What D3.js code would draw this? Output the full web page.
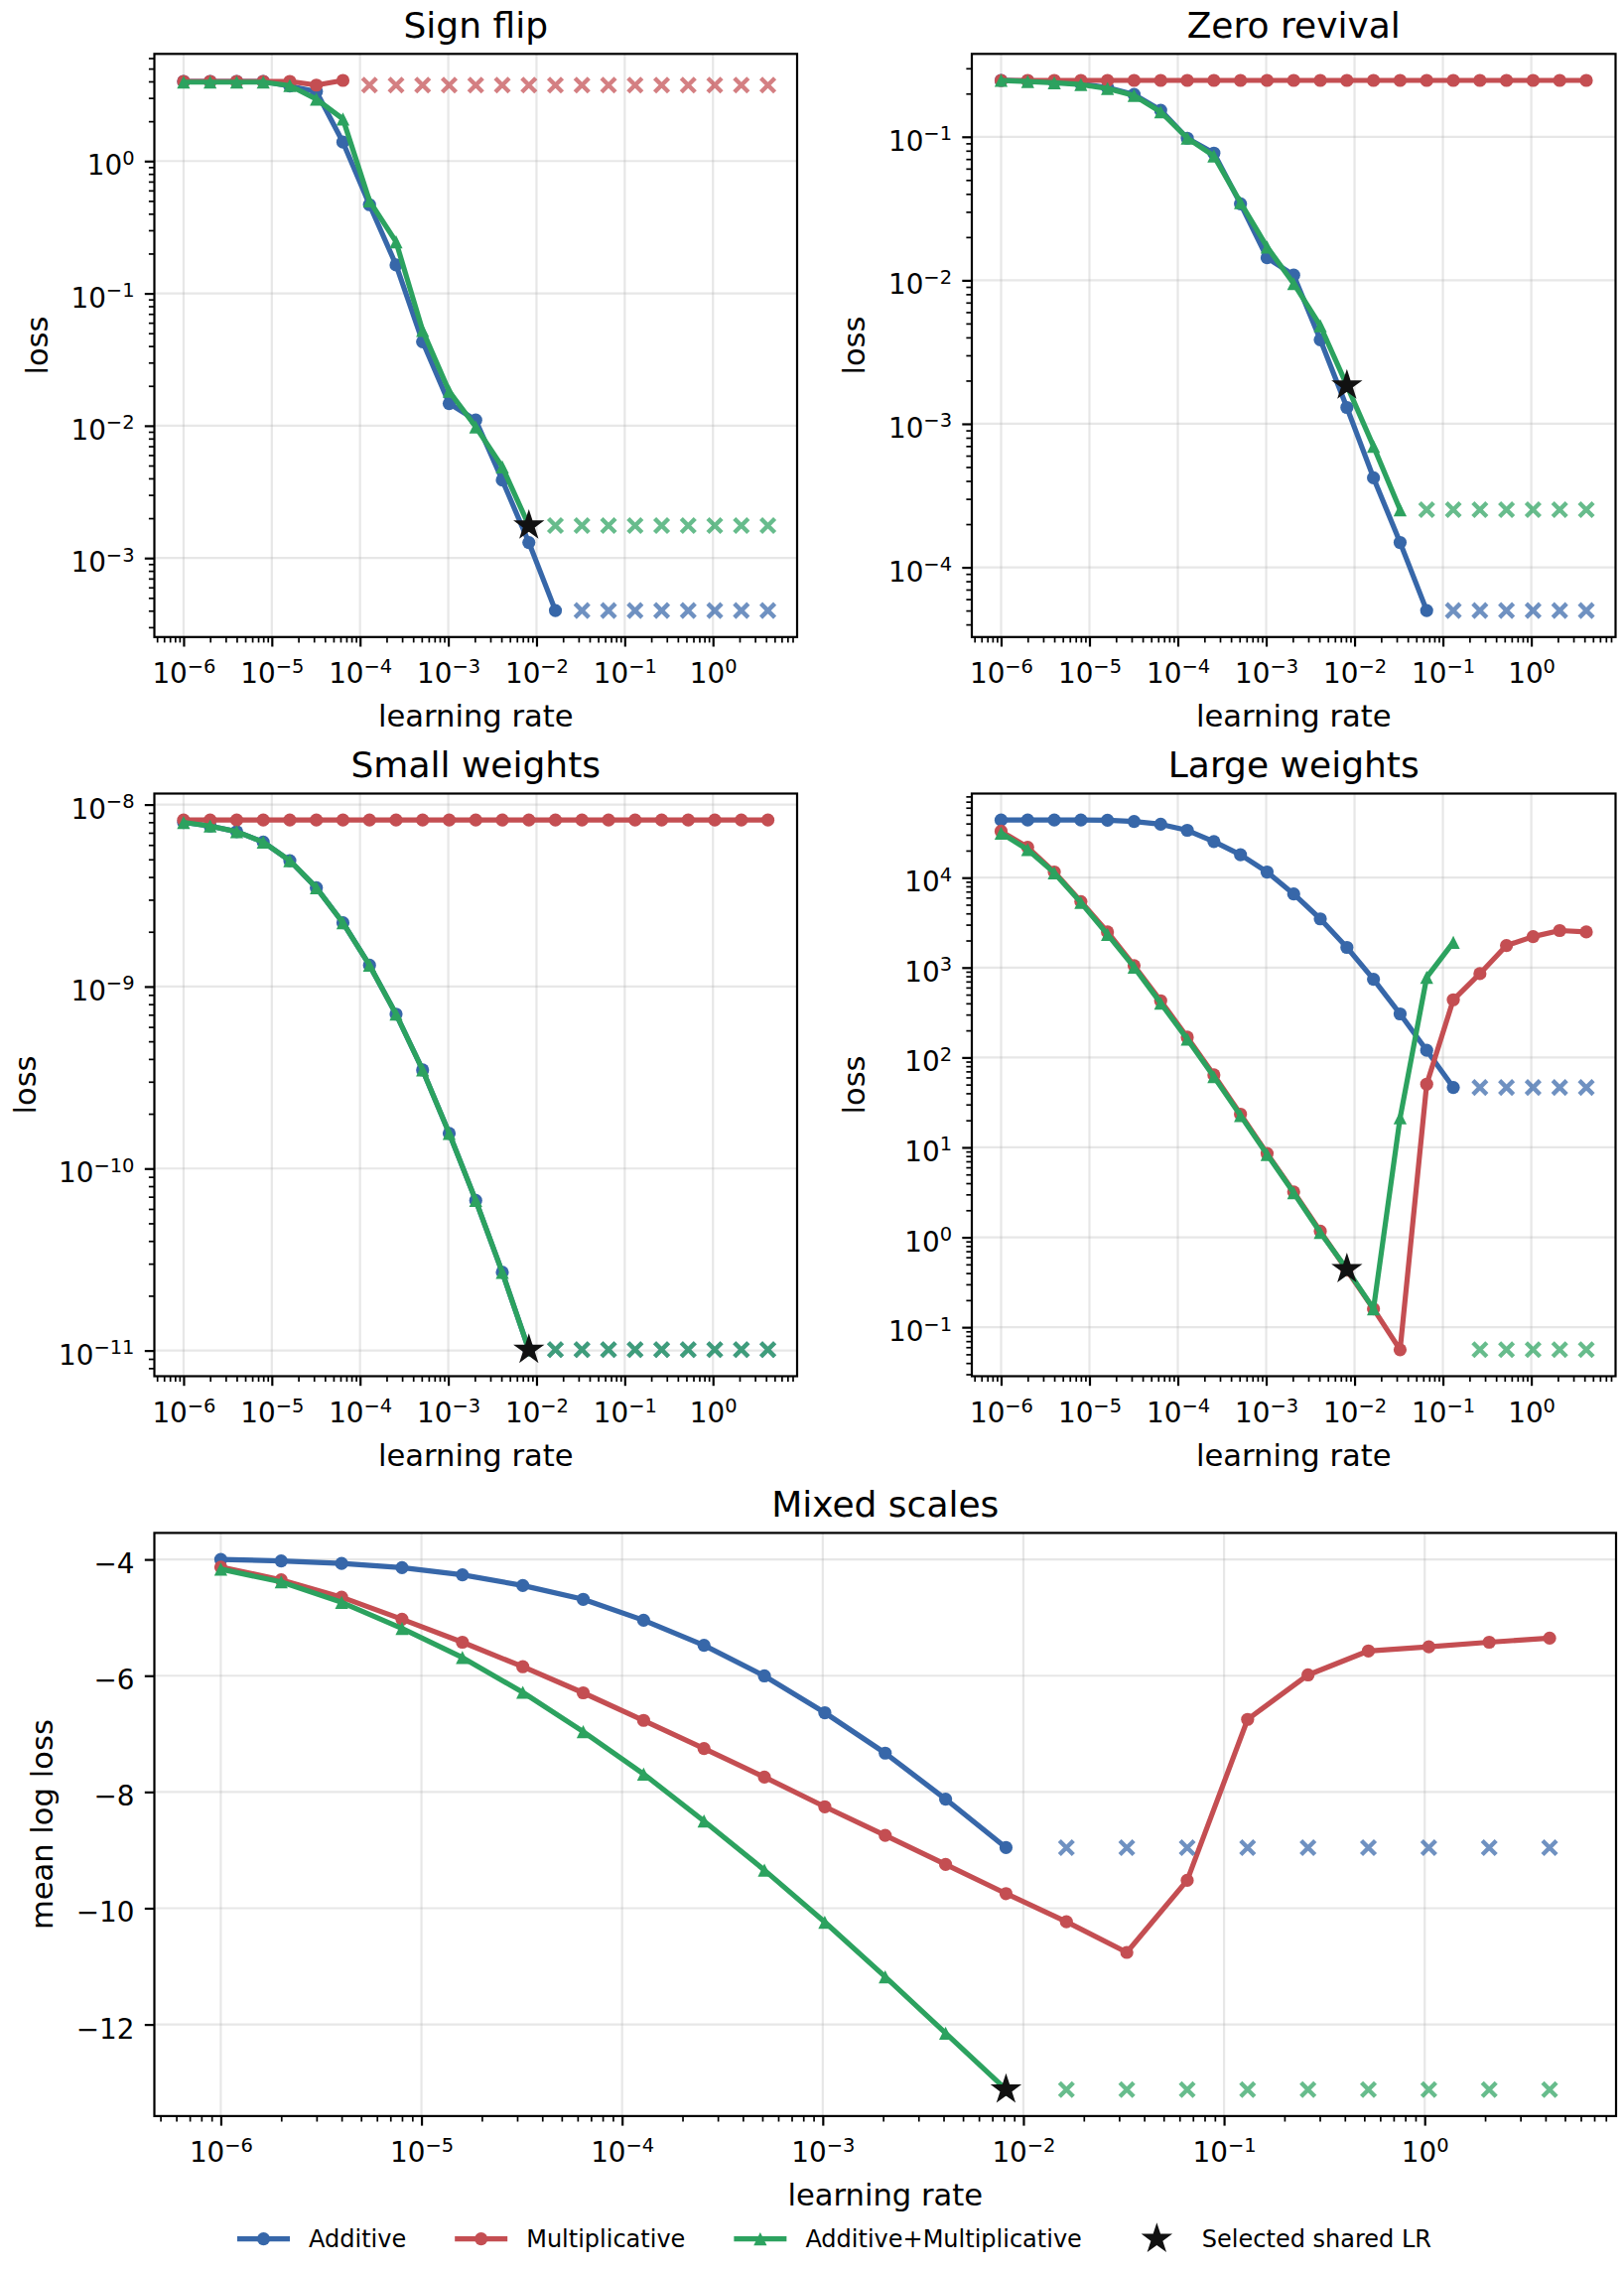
<!DOCTYPE html>
<html><head><meta charset="utf-8">
<script src="https://cdn.jsdelivr.net/npm/d3@7"></script>
<style>
body{margin:0;background:#fff}
svg{display:block}
text{font-family:"DejaVu Sans",sans-serif;fill:#000}
</style>
</head><body>
<svg id="chart" width="1636" height="2288"></svg>
<script>
// ---------------- DATA ----------------
const learningRates = [1e-6, 2e-6, 4e-6, 8e-6, 1.6e-5, 3.2e-5, 6.4e-5, 1.28e-4, 2.56e-4, 5.12e-4,
  1.024e-3, 2.048e-3, 4.096e-3, 8.192e-3, 1.6384e-2, 3.2768e-2, 6.5536e-2, 0.131072, 0.262144,
  0.524288, 1.048576, 2.097152, 4.194304];
const selectedLR = 8.192e-3;
const seriesNames = ["Additive", "Multiplicative", "Additive+Multiplicative"];
const starLegendLabel = "Selected shared LR";
const panelTitles = ["Sign flip", "Zero revival", "Small weights", "Large weights", "Mixed scales"];
const xTickValues = [1e-6, 1e-5, 1e-4, 1e-3, 1e-2, 1e-1, 1e0];
const mixedYTicks = [-12, -10, -8, -6, -4];

// Sign flip (values until divergence; x markers afterwards at the "fail" level)
const signFlipAdditive = [4.0, 4.0, 4.0, 4.0, 3.69, 3.35, 1.39, 0.468, 0.164, 0.0431, 0.0147, 0.01103, 0.00388, 0.00131, 0.000401];
const signFlipMultiplicative = [4.0, 4.0, 4.0, 4.0, 4.0, 3.75, 4.07];
const signFlipBoth = [3.95, 3.95, 3.95, 3.95, 3.72, 2.94, 2.08, 0.5, 0.245, 0.0525, 0.0182, 0.0098, 0.00488, 0.00176];
const signFlipFail = [0.000401, 3.75, 0.00176];
const signFlipStar = 0.00176;

// Zero revival
const zeroRevivalAdditive = [0.247, 0.245, 0.241, 0.234, 0.220, 0.197, 0.153, 0.0977, 0.0769, 0.0341, 0.01435, 0.01087, 0.00385, 0.0013, 0.00042, 0.000149, 0.00005];
const zeroRevivalMultiplicative = [0.247, 0.247, 0.247, 0.247, 0.247, 0.247, 0.247, 0.247, 0.247, 0.247, 0.247, 0.247, 0.247, 0.247, 0.247, 0.247, 0.247, 0.247, 0.247, 0.247, 0.247, 0.247, 0.247];
const zeroRevivalBoth = [0.247, 0.243, 0.238, 0.231, 0.217, 0.194, 0.149, 0.098, 0.0735, 0.0348, 0.01706, 0.00948, 0.00482, 0.00185, 0.000697, 0.000252];
const zeroRevivalFail = [0.00005, null, 0.000252];
const zeroRevivalStar = 0.00185;

// Small weights
const smallWeightsAdditive = [7.98e-9, 7.62e-9, 7.1e-9, 6.22e-9, 4.92e-9, 3.49e-9, 2.24e-9, 1.31e-9, 7.05e-10, 3.48e-10, 1.56e-10, 6.68e-11, 2.69e-11, 1.01e-11];
const smallWeightsMultiplicative = [8.22e-9, 8.22e-9, 8.22e-9, 8.22e-9, 8.22e-9, 8.22e-9, 8.22e-9, 8.22e-9, 8.22e-9, 8.22e-9, 8.22e-9, 8.22e-9, 8.22e-9, 8.22e-9, 8.22e-9, 8.22e-9, 8.22e-9, 8.22e-9, 8.22e-9, 8.22e-9, 8.22e-9, 8.22e-9, 8.22e-9];
const smallWeightsBoth = [7.98e-9, 7.62e-9, 7.1e-9, 6.22e-9, 4.92e-9, 3.49e-9, 2.24e-9, 1.31e-9, 7.05e-10, 3.48e-10, 1.56e-10, 6.68e-11, 2.69e-11, 1.01e-11];
const smallWeightsFail = [1.01e-11, null, 1.01e-11];
const smallWeightsStar = 1.01e-11;

// Large weights
const largeWeightsAdditive = [43700, 43700, 43700, 43700, 43500, 42200, 39200, 33600, 25200, 18000, 11550, 6580, 3480, 1675, 741, 305, 120, 46.4];
const largeWeightsMultiplicative = [32800, 21800, 11550, 5420, 2490, 1050, 427, 168, 64.1, 23.4, 8.56, 3.2, 1.17, 0.431, 0.16, 0.0562, 50.5, 438, 855, 1760, 2210, 2580, 2490];
const largeWeightsBoth = [31300, 20500, 11300, 5290, 2340, 1010, 402, 160, 61.1, 22.6, 8.35, 3.13, 1.13, 0.443, 0.16, 21.3, 778, 1910];
const largeWeightsFail = [46.4, null, 0.0562];
const largeWeightsStar = 0.443;

// Mixed scales (mean log loss)
const mixedAdditive = [-4.0, -4.026, -4.07, -4.14, -4.264, -4.448, -4.686, -5.046, -5.477, -6.004, -6.637, -7.332, -8.123, -8.958];
const mixedMultiplicative = [-4.132, -4.352, -4.65, -5.029, -5.424, -5.846, -6.295, -6.769, -7.253, -7.745, -8.255, -8.747, -9.248, -9.749, -10.233, -10.76, -9.521, -6.752, -5.987, -5.574, -5.503, -5.424, -5.354];
const mixedBoth = [-4.167, -4.387, -4.738, -5.187, -5.688, -6.286, -6.963, -7.692, -8.501, -9.345, -10.24, -11.18, -12.15, -13.12];
const mixedFail = [-8.958, null, -13.12];
const mixedStar = -13.12;

// ---------------- STYLE / LAYOUT ----------------
const colors = ["#3767a9", "#c44e52", "#2ca25f"];
const markerShapes = ["circle", "circle", "triangle"];
const F = {title: 36, label: 30.6, tick: 27.8, legend: 24};
const LW = 5.2, MR = 6.6;

const panels = [
  {title: panelTitles[0], ylabel: "loss", log: true, series: [signFlipAdditive, signFlipMultiplicative, signFlipBoth], fail: signFlipFail, star: signFlipStar, box: {L: 155.5, R: 803, T: 54.3, B: 641.8}},
  {title: panelTitles[1], ylabel: "loss", log: true, series: [zeroRevivalAdditive, zeroRevivalMultiplicative, zeroRevivalBoth], fail: zeroRevivalFail, star: zeroRevivalStar, box: {L: 979, R: 1627.5, T: 54.3, B: 641.8}},
  {title: panelTitles[2], ylabel: "loss", log: true, series: [smallWeightsAdditive, smallWeightsMultiplicative, smallWeightsBoth], fail: smallWeightsFail, star: smallWeightsStar, box: {L: 155.5, R: 803, T: 799.5, B: 1386.5}},
  {title: panelTitles[3], ylabel: "loss", log: true, series: [largeWeightsAdditive, largeWeightsMultiplicative, largeWeightsBoth], fail: largeWeightsFail, star: largeWeightsStar, box: {L: 979, R: 1627.5, T: 799.5, B: 1386.5}},
  {title: panelTitles[4], ylabel: "mean log loss", log: false, series: [mixedAdditive, mixedMultiplicative, mixedBoth], fail: mixedFail, star: mixedStar, box: {L: 155.5, R: 1628, T: 1544.4, B: 2131.9}}
];

const svg = d3.select("#chart");
function supLabel(sel, exp, baseSize) {
  sel.text(null);
  sel.append("tspan").text("10");
  sel.append("tspan").attr("font-size", baseSize * 0.7).attr("dy", -10.5)
    .text(String(exp).replace("-", "\u2212"));
}

function logExtent(vals, pad) {
  const a = Math.log10(d3.min(vals)), b = Math.log10(d3.max(vals)), m = (b - a) * pad;
  return [Math.pow(10, a - m), Math.pow(10, b + m)];
}
function linExtent(vals, pad) {
  const a = d3.min(vals), b = d3.max(vals), m = (b - a) * pad;
  return [a - m, b + m];
}
function minorLogTicks(domain) {
  const out = [];
  for (let e = -12; e <= 6; e++) for (let m = 2; m <= 9; m++) {
    const v = m * Math.pow(10, e);
    if (v >= Math.min(...domain) && v <= Math.max(...domain)) out.push(v);
  }
  return out;
}
function markerPath(shape, r) {
  if (shape === "triangle") return `M0,${-r}L${-r},${r}L${r},${r}Z`;
  return d3.symbol(d3.symbolCircle, Math.PI * r * r)();
}
function starPath(R) {
  const ri = R * 0.381966; let p = "";
  for (let i = 0; i < 10; i++) {
    const rr = i % 2 === 0 ? R : ri;
    const a = -Math.PI / 2 + i * Math.PI / 5;
    p += (i === 0 ? "M" : "L") + (rr * Math.cos(a)).toFixed(2) + "," + (rr * Math.sin(a)).toFixed(2);
  }
  return p + "Z";
}
function xPath(h) { return `M${-h},${-h}L${h},${h}M${-h},${h}L${h},${-h}`; }

panels.forEach(p => {
  const {L, R, T, B} = p.box;
  const g = svg.append("g");
  const xDom = logExtent(learningRates, 0.05);
  const x = d3.scaleLog().domain(xDom).range([L, R]);
  const allY = p.series.flat().concat(p.fail.filter(v => v !== null));
  const y = p.log ? d3.scaleLog().domain(logExtent(allY, 0.05)).range([B, T])
                  : d3.scaleLinear().domain(linExtent(allY, 0.05)).range([B, T]);
  const yMajor = p.log ? d3.range(Math.ceil(Math.log10(y.domain()[0])), Math.floor(Math.log10(y.domain()[1])) + 1).map(e => Math.pow(10, e))
                       : mixedYTicks;

  // grid
  const grid = g.append("g").attr("stroke", "#b0b0b0").attr("stroke-opacity", 0.3).attr("stroke-width", 2.2);
  grid.selectAll("line.gx").data(xTickValues).join("line").attr("x1", d => x(d)).attr("x2", d => x(d)).attr("y1", T).attr("y2", B);
  grid.selectAll("line.gy").data(yMajor).join("line").attr("x1", L).attr("x2", R).attr("y1", d => y(d)).attr("y2", d => y(d));

  // series
  p.series.forEach((vals, i) => {
    const pts = vals.map((v, k) => ({x: learningRates[k], y: v}));
    g.append("path").datum(pts).attr("fill", "none").attr("stroke", colors[i]).attr("stroke-width", LW)
      .attr("stroke-linejoin", "round").attr("stroke-linecap", "butt")
      .attr("d", d3.line().x(d => x(d.x)).y(d => y(d.y)));
    g.append("g").selectAll("path").data(pts).join("path")
      .attr("transform", d => `translate(${x(d.x)},${y(d.y)})`)
      .attr("d", markerPath(markerShapes[i], MR)).attr("fill", colors[i]);
  });
  // failure markers
  p.series.forEach((vals, i) => {
    if (p.fail[i] === null) return;
    const fx = learningRates.slice(vals.length);
    g.append("g").selectAll("path").data(fx).join("path")
      .attr("transform", d => `translate(${x(d)},${y(p.fail[i])})`)
      .attr("d", xPath(7)).attr("fill", "none").attr("stroke", colors[i])
      .attr("stroke-opacity", 0.72).attr("stroke-width", 4.4);
  });
  // star
  g.append("path").attr("transform", `translate(${x(selectedLR)},${y(p.star)})`)
    .attr("d", starPath(16.5)).attr("fill", "#111");

  // axes
  const axB = g.append("g").attr("transform", `translate(0,${B})`);
  axB.append("g").call(d3.axisBottom(x).tickValues(minorLogTicks(xDom)).tickSize(5.6).tickFormat(""))
    .call(s => { s.select(".domain").remove(); s.selectAll("line").attr("stroke-width", 1.7); });
  const axBM = axB.append("g").call(d3.axisBottom(x).tickValues(xTickValues).tickSize(9.7))
    .attr("font-size", null).attr("font-family", null);
  axBM.select(".domain").remove();
  axBM.selectAll("line").attr("stroke-width", 2.2);
  axBM.selectAll("text").attr("y", 46.5).attr("dy", null).attr("font-size", F.tick)
    .each(function(d) { supLabel(d3.select(this), Math.round(Math.log10(d)), F.tick); });

  const axL = g.append("g").attr("transform", `translate(${L},0)`);
  if (p.log) {
    axL.append("g").call(d3.axisLeft(y).tickValues(minorLogTicks(y.domain())).tickSize(5.6).tickFormat(""))
      .call(s => { s.select(".domain").remove(); s.selectAll("line").attr("stroke-width", 1.7); });
  }
  const axLM = axL.append("g").call(d3.axisLeft(y).tickValues(yMajor).tickSize(9.7)
      .tickFormat(d => p.log ? "" : String(d).replace("-", "\u2212")))
    .attr("font-size", null).attr("font-family", null);
  axLM.select(".domain").remove();
  axLM.selectAll("line").attr("stroke-width", 2.2);
  axLM.selectAll("text").attr("x", -20).attr("dy", null).attr("y", 13.5).attr("font-size", F.tick)
    .each(function(d) { if (p.log) supLabel(d3.select(this), Math.round(Math.log10(d)), F.tick); });

  // spines
  g.append("rect").attr("x", L).attr("y", T).attr("width", R - L).attr("height", B - T)
    .attr("fill", "none").attr("stroke", "#000").attr("stroke-width", 2.2);

  // labels
  g.append("text").attr("x", (L + R) / 2).attr("y", T - 16.5).attr("text-anchor", "middle")
    .attr("font-size", F.title).text(p.title);
  g.append("text").attr("x", (L + R) / 2).attr("y", B + 90).attr("text-anchor", "middle")
    .attr("font-size", F.label).text("learning rate");
  const minX = axLM.node().getBBox().x + L;
  const yl = minX - 34;
  g.append("text").attr("transform", `translate(${yl},${(T + B) / 2}) rotate(-90)`)
    .attr("text-anchor", "middle").attr("dominant-baseline", "central")
    .attr("font-size", F.label).text(p.ylabel);
});

// ---------------- LEGEND ----------------
const leg = svg.append("g");
const legY = 2255.7, legBase = 2264;
let cx = 239;
const handleLen = 53, textPad = 19, colGap = 49;
seriesNames.forEach((name, i) => {
  leg.append("line").attr("x1", cx).attr("x2", cx + handleLen).attr("y1", legY).attr("y2", legY)
    .attr("stroke", colors[i]).attr("stroke-width", LW);
  leg.append("path").attr("transform", `translate(${cx + handleLen / 2},${legY})`)
    .attr("d", markerPath(markerShapes[i], MR)).attr("fill", colors[i]);
  const t = leg.append("text").attr("x", cx + handleLen + textPad).attr("y", legBase)
    .attr("font-size", F.legend).text(name);
  cx = cx + handleLen + textPad + t.node().getComputedTextLength() + colGap;
});
leg.append("path").attr("transform", `translate(${cx + handleLen / 2},${legY})`)
  .attr("d", starPath(16.5)).attr("fill", "#111");
leg.append("text").attr("x", cx + handleLen + textPad).attr("y", legBase)
  .attr("font-size", F.legend).text(starLegendLabel);
</script>
</body></html>
